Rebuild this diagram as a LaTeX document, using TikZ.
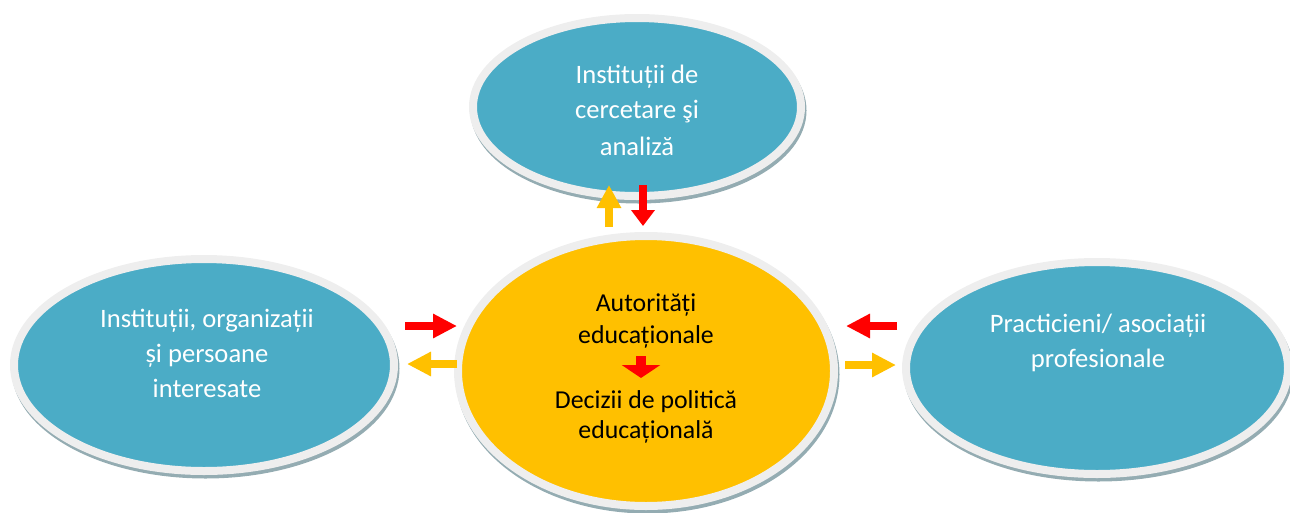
\documentclass[tikz,border=0pt]{standalone}
\usepackage{fontspec}
\setmainfont{Carlito}
\usetikzlibrary{arrows.meta,shapes.geometric,shadows}
\definecolor{blueF}{HTML}{4BACC6}
\definecolor{yellowF}{HTML}{FFC000}
\definecolor{rimC}{HTML}{EEEEEE}
\definecolor{shadowC}{HTML}{94ACB2}
\definecolor{redA}{HTML}{FF0000}
\begin{document}
\begin{tikzpicture}[x=1pt,y=-1pt,
  bubble/.style={ellipse, inner sep=0pt, draw=rimC, line width=8pt,
    drop shadow={shadow xshift=1.5pt, shadow yshift=-3.5pt, fill=shadowC, draw=shadowC, line width=8pt, opacity=1}},
  bluebubble/.style={bubble, fill=blueF},
  yellowbubble/.style={bubble, fill=yellowF},
  wtxt/.style={anchor=base, text=white, font=\fontsize{26.6}{30}\selectfont, inner sep=0pt},
  ktxt/.style={anchor=base, text=black, font=\fontsize{25.8}{30}\selectfont, inner sep=0pt},
  harrow/.style={line width=8pt, -{Triangle[length=24pt, width=23pt]}},
]
\useasboundingbox (0,0) rectangle (1290,512);

% ellipses
\node[bluebubble, minimum width=328pt, minimum height=178pt] (top) at (637,107) {};
\node[bluebubble, minimum width=380pt, minimum height=212pt] (left) at (204,365) {};
\node[bluebubble, minimum width=382pt, minimum height=212pt] (right) at (1097,368) {};
\node[yellowbubble, minimum width=376pt, minimum height=270pt] (center) at (646,371) {};

% texts
\node[wtxt] (t1) at (637,83) {Instituții de};
\node[wtxt] (t2) at (637,118) {cercetare şi};
\node[wtxt] (t3) at (637,155) {analiză};

\node[wtxt] (l1) at (207,327) {Instituții, organizații};
\node[wtxt] (l2) at (207,362) {și persoane};
\node[wtxt] (l3) at (207,397) {interesate};

\node[wtxt] (r1) at (1098,332) {Practicieni/ asociații};
\node[wtxt] (r2) at (1098,367) {profesionale};

\node[ktxt] (c1) at (646,311) {Autorități};
\node[ktxt] (c2) at (646,343) {educaționale};
\node[ktxt] (c3) at (646,408) {Decizii de politică};
\node[ktxt] (c4) at (646,438) {educațională};

% arrow end points
\coordinate (lrA) at (405,326); \coordinate (lrB) at (457,326);
\coordinate (lyA) at (457,364); \coordinate (lyB) at (407,364);
\coordinate (rrA) at (897,326); \coordinate (rrB) at (846,326);
\coordinate (ryA) at (845,365); \coordinate (ryB) at (896,365);
\coordinate (tyA) at (609,227); \coordinate (tyB) at (609,185);
\coordinate (trA) at (643,185); \coordinate (trB) at (643,226);
\coordinate (cdA) at (641,356); \coordinate (cdB) at (641,378);

\draw[harrow, redA] (lrA) -- (lrB);
\draw[harrow, yellowF] (lyA) -- (lyB);
\draw[harrow, redA] (rrA) -- (rrB);
\draw[harrow, yellowF] (ryA) -- (ryB);
\draw[line width=8pt, yellowF, -{Triangle[length=23pt, width=23pt]}] (tyA) -- (tyB);
\draw[line width=8pt, redA, -{Triangle[length=16pt, width=23pt]}] (trA) -- (trB);
\draw[line width=10pt, redA, -{Triangle[length=13pt, width=38pt]}] (cdA) -- (cdB);
\end{tikzpicture}
\end{document}
